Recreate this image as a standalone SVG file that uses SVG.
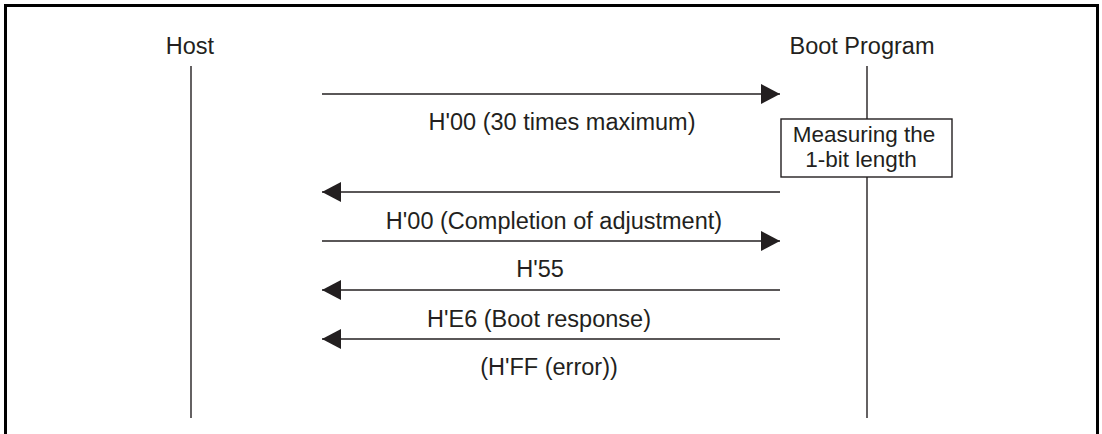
<svg xmlns="http://www.w3.org/2000/svg" width="1102" height="434" viewBox="0 0 1102 434">
<defs>
<style>
text{font-family:"Liberation Sans",Arial,sans-serif;font-size:23.5px;fill:#231f20;text-anchor:middle}
.box text{font-size:22.5px}
.life{stroke:#231f20;stroke-width:1.4;fill:none}
.msg{stroke:#231f20;stroke-width:1.4;fill:none;marker-end:url(#ah)}
</style>
<marker id="ah" viewBox="0 0 19 20" refX="19" refY="10" markerWidth="19" markerHeight="20" markerUnits="userSpaceOnUse" orient="auto">
<path d="M0,0 L19,10 L0,20 Z" fill="#231f20"/>
</marker>
</defs>
<rect width="1102" height="434" fill="#fff"/>
<path d="M5.5,434 V5.5 H1097.5 V434" fill="none" stroke="#000" stroke-width="3"/>
<g id="host">
<text x="190" y="54">Host</text>
<line class="life" x1="191" y1="66" x2="191" y2="418"/>
</g>
<g id="boot">
<text x="862" y="54">Boot Program</text>
<line class="life" x1="867" y1="66" x2="867" y2="119"/>
<line class="life" x1="867" y1="177" x2="867" y2="418"/>
</g>
<g id="measure" class="box">
<rect x="781" y="119" width="171" height="58" fill="#fff" stroke="#231f20" stroke-width="1.4"/>
<text x="864" y="142">Measuring the</text>
<text x="861" y="167">1-bit length</text>
</g>
<g id="connectors">
<line class="msg" x1="322" y1="94" x2="780" y2="94"/>
<line class="msg" x1="780" y1="192" x2="322" y2="192"/>
<line class="msg" x1="322" y1="241" x2="780" y2="241"/>
<line class="msg" x1="780" y1="290" x2="322" y2="290"/>
<line class="msg" x1="780" y1="339" x2="322" y2="339"/>
</g>
<g id="labels">
<text x="562" y="130">H'00 (30 times maximum)</text>
<text x="554" y="229">H'00 (Completion of adjustment)</text>
<text x="540" y="277">H'55</text>
<text x="539" y="327">H'E6 (Boot response)</text>
<text x="549" y="375">(H'FF (error))</text>
</g>
</svg>
